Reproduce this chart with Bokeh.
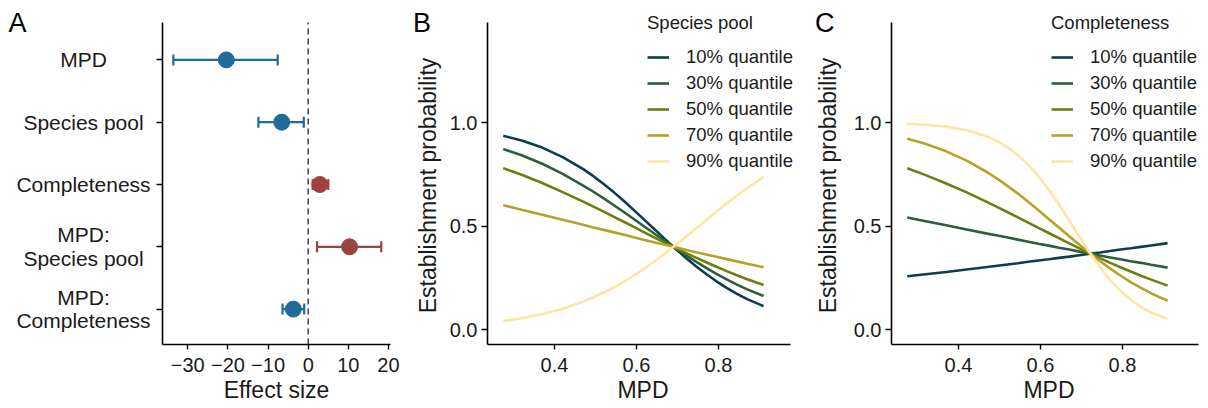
import math
from bokeh.plotting import figure
from bokeh.models import (ColumnDataSource, FixedTicker, Legend, LegendItem,
                          NumeralTickFormatter, Range1d)
from bokeh.layouts import row
from bokeh.embed import file_html
from bokeh.resources import INLINE
from bokeh.core.properties import value

FONT = "Liberation Sans"
TXT = "#1a1a1a"
H = 408
BOT = 64                 # bottom border shared by every plot in the row
FRAME_H = H - BOT        # frame spans page y 0..344
AX_TOP = 22              # page y where the axes start (top of panels)

# ---------------- Panel A data ----------------
categories = ["MPD", "Species pool", "Completeness", "MPD:\nSpecies pool", "MPD:\nCompleteness"]
estimate = [-20.4, -6.6, 2.9, 10.3, -3.7]
lower = [-33.6, -12.4, 1.1, 2.2, -6.4]
upper = [-7.6, -1.1, 5.0, 18.2, -1.0]
effect_ticks = [-30, -20, -10, 0, 10, 20]
NEG_COL = "#1f6b9a"
POS_COL = "#9d433f"

# ---------------- Panels B / C data ----------------
mpd = [0.275, 0.32, 0.37, 0.42, 0.47, 0.495, 0.52, 0.545, 0.57, 0.595, 0.62,
       0.645, 0.67, 0.695, 0.72, 0.745, 0.77, 0.795, 0.82, 0.845, 0.87, 0.91]
quantile_labels = ["10% quantile", "30% quantile", "50% quantile", "70% quantile", "90% quantile"]
quantile_colors = ["#0b3d4c", "#2e5d3e", "#6b7f12", "#b5a229", "#ffe5a3"]

pool_10 = [0.936, 0.913, 0.879, 0.833, 0.775, 0.741, 0.703, 0.663, 0.620, 0.575, 0.529,
           0.483, 0.436, 0.391, 0.348, 0.307, 0.269, 0.234, 0.202, 0.173, 0.148, 0.114]
pool_30 = [0.872, 0.842, 0.801, 0.752, 0.696, 0.666, 0.634, 0.601, 0.567, 0.532, 0.497,
           0.462, 0.427, 0.393, 0.360, 0.329, 0.299, 0.270, 0.243, 0.218, 0.195, 0.163]
pool_50 = [0.780, 0.748, 0.708, 0.664, 0.618, 0.594, 0.570, 0.545, 0.520, 0.495, 0.469,
           0.444, 0.420, 0.395, 0.371, 0.348, 0.326, 0.304, 0.283, 0.263, 0.244, 0.216]
pool_70 = [0.601, 0.579, 0.555, 0.531, 0.507, 0.494, 0.482, 0.470, 0.458, 0.445, 0.433,
           0.421, 0.410, 0.398, 0.386, 0.374, 0.363, 0.352, 0.341, 0.330, 0.319, 0.302]
pool_90 = [0.042, 0.056, 0.076, 0.102, 0.136, 0.157, 0.180, 0.205, 0.233, 0.264, 0.296,
           0.332, 0.369, 0.408, 0.448, 0.489, 0.530, 0.570, 0.610, 0.648, 0.684, 0.738]

comp_10 = [0.258, 0.268, 0.279, 0.291, 0.303, 0.309, 0.315, 0.321, 0.328, 0.334, 0.340,
           0.347, 0.353, 0.360, 0.367, 0.373, 0.380, 0.387, 0.393, 0.400, 0.407, 0.418]
comp_30 = [0.542, 0.524, 0.504, 0.484, 0.464, 0.455, 0.445, 0.435, 0.425, 0.415, 0.406,
           0.396, 0.387, 0.377, 0.368, 0.358, 0.349, 0.340, 0.331, 0.323, 0.314, 0.300]
comp_50 = [0.779, 0.746, 0.706, 0.663, 0.616, 0.592, 0.567, 0.542, 0.517, 0.492, 0.467,
           0.442, 0.417, 0.393, 0.369, 0.346, 0.323, 0.302, 0.281, 0.261, 0.242, 0.213]
comp_70 = [0.922, 0.897, 0.861, 0.816, 0.760, 0.728, 0.693, 0.657, 0.618, 0.577, 0.535,
           0.493, 0.451, 0.410, 0.370, 0.332, 0.295, 0.262, 0.230, 0.202, 0.176, 0.140]
comp_90 = [0.994, 0.989, 0.980, 0.963, 0.932, 0.910, 0.880, 0.843, 0.797, 0.741, 0.676,
           0.604, 0.527, 0.449, 0.373, 0.303, 0.241, 0.188, 0.145, 0.110, 0.083, 0.052]

prob_ticks = [0.0, 0.5, 1.0]
mpd_ticks = [0.4, 0.6, 0.8]
y_title = "Establishment probability"


def style_axes(p):
    p.xgrid.visible = False
    p.ygrid.visible = False
    p.outline_line_color = None
    for ax in (p.xaxis[0], p.yaxis[0]):
        ax.axis_line_color = "black"
        ax.axis_line_width = 1.6
        ax.major_tick_line_color = "black"
        ax.major_tick_line_width = 1.4
        ax.major_tick_in = 0
        ax.major_tick_out = 5
        ax.minor_tick_line_color = None
        ax.major_label_text_font = FONT
        ax.major_label_text_font_size = "20px"
        ax.major_label_text_color = TXT
        ax.axis_label_text_font = FONT
        ax.axis_label_text_font_size = "23px"
        ax.axis_label_text_font_style = "normal"
        ax.axis_label_text_color = TXT
    p.xaxis.major_label_standoff = 8
    p.xaxis.axis_label_standoff = 2
    p.yaxis.major_label_standoff = 4
    p.yaxis.major_tick_out = 6


def base_fig(width, xr, yr, left, right, axes=True):
    kw = {} if axes else dict(x_axis_type=None, y_axis_type=None)
    p = figure(width=width, height=H, x_range=Range1d(*xr), y_range=Range1d(*yr),
               output_backend="svg", toolbar_location=None, title=None,
               min_border_left=left, min_border_right=right, min_border_top=0,
               min_border_bottom=BOT, **kw)
    p.outline_line_color = None
    p.grid.visible = False
    return p


# ---------------- Panel A ----------------
panel_A = (0.4, 5.6)                         # category span of the panel (page y 22..346)
ppy_A = (346 - AX_TOP) / (panel_A[1] - panel_A[0])
ayr = (panel_A[0] + (346 - FRAME_H) / ppy_A, panel_A[1] + AX_TOP / ppy_A)
axr = (-36.3, 20.5)
ypos = [len(categories) - i for i in range(len(categories))]

gA = base_fig(150, (0, 150), ayr, 0, 0, axes=False)
gA.text(x=[83] * len(categories), y=ypos, text=categories, text_align="center",
        text_baseline="middle", text_font=value(FONT), text_font_size="21px",
        text_color=TXT, text_line_height=1.03)
gA.text(x=[8], y=[panel_A[1]], text=["A"], text_align="left", text_baseline="middle",
        text_font=value(FONT), text_font_size="27px", text_color="black")

pA = base_fig(250, axr, ayr, 12, 10)
style_axes(pA)
pA.xaxis.axis_label = "Effect size"
pA.xaxis.ticker = FixedTicker(ticks=effect_ticks)
pA.xaxis.major_label_overrides = {t: str(t).replace("-", "\u2212") for t in effect_ticks}
pA.yaxis.ticker = FixedTicker(ticks=ypos)
pA.yaxis.bounds = (ayr[0], panel_A[1])
pA.yaxis.major_label_text_color = None
pA.yaxis.major_label_standoff = 0

cap = 5.5 / ppy_A
colsA = [NEG_COL if e < 0 else POS_COL for e in estimate]
srcA = ColumnDataSource(dict(
    y=ypos, est=estimate, lo=lower, hi=upper, col=colsA,
    y0=[y - cap for y in ypos], y1=[y + cap for y in ypos]))

pA.segment(x0=[0], x1=[0], y0=[ayr[0]], y1=[panel_A[1]], line_color="#4d4d4d",
           line_width=1.6, line_dash="6 4")
pA.segment(x0="lo", x1="hi", y0="y", y1="y", source=srcA, line_color="col", line_width=2.2)
pA.segment(x0="lo", x1="lo", y0="y0", y1="y1", source=srcA, line_color="col", line_width=2.2)
pA.segment(x0="hi", x1="hi", y0="y0", y1="y1", source=srcA, line_color="col", line_width=2.2)
pA.scatter(x="est", y="y", source=srcA, size=16, fill_color="col", line_color="col")


# ---------------- Panels B / C ----------------
ppy_P = (329.3 - 122.0) / 1.0                # page pixels per probability unit
pyr = (-(FRAME_H - 329.3) / ppy_P, 1 + 122.0 / ppy_P)
p_axis_top = 1 + (122.0 - AX_TOP) / ppy_P
ppx = 410.0                                  # page pixels per MPD unit


def curve_panel(width, left, right, x_start, x_axis_end, series, title):
    frame_w = width - left - right
    xr = (x_start, x_start + frame_w / ppx)
    p = base_fig(width, xr, pyr, left, right)
    style_axes(p)
    p.xaxis.axis_label = "MPD"
    p.xaxis.ticker = FixedTicker(ticks=mpd_ticks)
    p.yaxis.ticker = FixedTicker(ticks=prob_ticks)
    p.xaxis.formatter = NumeralTickFormatter(format="0.0")
    p.yaxis.formatter = NumeralTickFormatter(format="0.0")
    p.xaxis.bounds = (x_start, x_axis_end)
    p.yaxis.bounds = (pyr[0], p_axis_top)
    items = []
    for ys, col, lab in zip(series, quantile_colors, quantile_labels):
        r = p.line(mpd, ys, line_color=col, line_width=2.6)
        items.append(LegendItem(label=lab, renderers=[r]))
    leg = Legend(items=items, title=title, location=(160, FRAME_H - 172),
                 padding=0, margin=0, border_line_color=None, background_fill_alpha=0,
                 label_text_font=FONT, label_text_font_size="18.5px", label_text_color=TXT,
                 title_text_font=FONT, title_text_font_size="18.5px", title_text_color=TXT,
                 title_text_font_style="normal", title_standoff=12,
                 glyph_width=22, glyph_height=20, label_height=20, label_standoff=17, spacing=4)
    p.add_layout(leg, "center")
    return p


def side_gutter(letter, letter_x):
    g = base_fig(46, (0, 46), (0, FRAME_H), 0, 0, axes=False)
    g.text(x=[letter_x], y=[FRAME_H - 22.5], text=[letter], text_align="left",
           text_baseline="middle", text_font=value(FONT), text_font_size="27px",
           text_color="black")
    g.text(x=[27.7], y=[FRAME_H - 185], text=[y_title], angle=math.pi / 2, text_align="center",
           text_baseline="middle", text_font=value(FONT), text_font_size="23px", text_color=TXT)
    return g


gB = side_gutter("B", 12.5)
pB = curve_panel(354, 41, 2, 0.2366, 0.975, [pool_10, pool_30, pool_50, pool_70, pool_90],
                 "Species pool")
gC = side_gutter("C", 14.5)
pC = curve_panel(362, 45, 2, 0.2366, 0.985, [comp_10, comp_30, comp_50, comp_70, comp_90],
                 "Completeness")

layout = row(gA, pA, gB, pB, gC, pC, spacing=0)
open("out.html", "w").write(file_html(layout, INLINE))
